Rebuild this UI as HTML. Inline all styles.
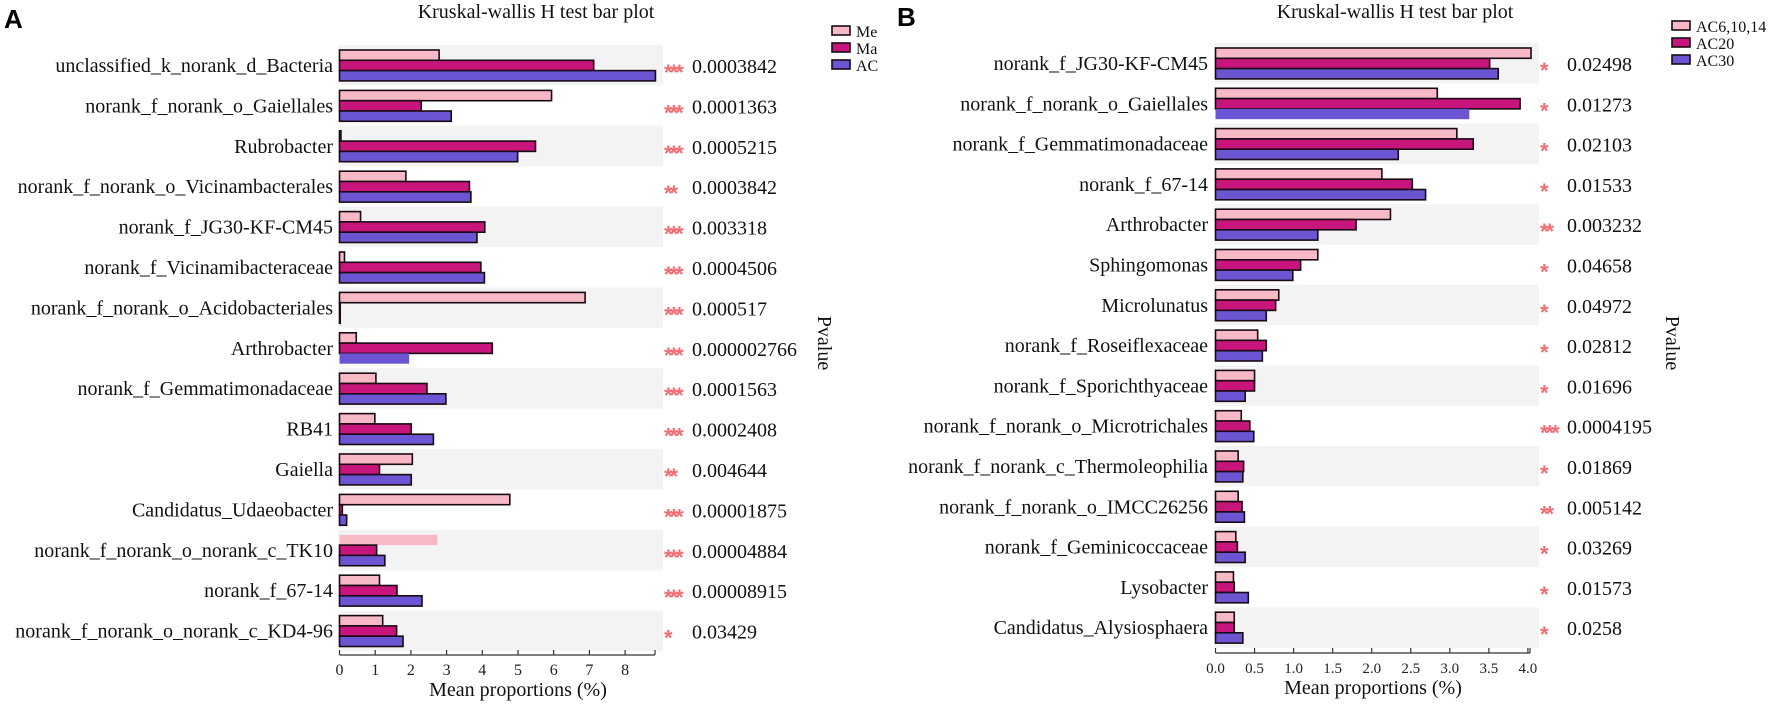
<!DOCTYPE html>
<html><head><meta charset="utf-8"><style>
html,body{margin:0;padding:0;background:#fff;width:1772px;height:704px;overflow:hidden}
svg{display:block;font-family:"Liberation Serif",serif}
</style></head><body>
<svg id="chart" width="1772" height="704" xmlns="http://www.w3.org/2000/svg">
<text x="4" y="28" font-family="Liberation Sans,sans-serif" font-weight="bold" font-size="26">A</text>
<text x="897" y="26" font-family="Liberation Sans,sans-serif" font-weight="bold" font-size="26">B</text>
</svg>
<script>
const catsA = ["unclassified_k_norank_d_Bacteria","norank_f_norank_o_Gaiellales","Rubrobacter","norank_f_norank_o_Vicinambacterales","norank_f_JG30-KF-CM45","norank_f_Vicinamibacteraceae","norank_f_norank_o_Acidobacteriales","Arthrobacter","norank_f_Gemmatimonadaceae","RB41","Gaiella","Candidatus_Udaeobacter","norank_f_norank_o_norank_c_TK10","norank_f_67-14","norank_f_norank_o_norank_c_KD4-96"];
const meA = [2.79,5.94,0.04,1.86,0.59,0.14,6.88,0.47,1.02,0.99,2.04,4.77,2.74,1.12,1.21];
const maA = [7.12,2.29,5.49,3.64,4.07,3.96,0.02,4.28,2.45,2.01,1.12,0.08,1.04,1.61,1.60];
const acA = [8.85,3.13,4.99,3.68,3.85,4.06,0.02,1.95,2.98,2.63,2.01,0.20,1.27,2.31,1.78];
const pvalsA = ["0.0003842","0.0001363","0.0005215","0.0003842","0.003318","0.0004506","0.000517","0.000002766","0.0001563","0.0002408","0.004644","0.00001875","0.00004884","0.00008915","0.03429"];
const starsA = ["***","***","***","**","***","***","***","***","***","***","**","***","***","***","*"];
const ticksA = [0,1,2,3,4,5,6,7,8];
const legendA = ["Me","Ma","AC"];

const catsB = ["norank_f_JG30-KF-CM45","norank_f_norank_o_Gaiellales","norank_f_Gemmatimonadaceae","norank_f_67-14","Arthrobacter","Sphingomonas","Microlunatus","norank_f_Roseiflexaceae","norank_f_Sporichthyaceae","norank_f_norank_o_Microtrichales","norank_f_norank_c_Thermoleophilia","norank_f_norank_o_IMCC26256","norank_f_Geminicoccaceae","Lysobacter","Candidatus_Alysiosphaera"];
const s1B = [4.04,2.84,3.09,2.13,2.24,1.31,0.81,0.54,0.50,0.33,0.29,0.29,0.26,0.23,0.24];
const s2B = [3.51,3.90,3.30,2.52,1.80,1.09,0.77,0.65,0.50,0.44,0.36,0.34,0.28,0.24,0.24];
const s3B = [3.62,3.25,2.34,2.69,1.31,0.99,0.65,0.60,0.38,0.49,0.35,0.37,0.38,0.42,0.35];
const pvalsB = ["0.02498","0.01273","0.02103","0.01533","0.003232","0.04658","0.04972","0.02812","0.01696","0.0004195","0.01869","0.005142","0.03269","0.01573","0.0258"];
const starsB = ["*","*","*","*","**","*","*","*","*","***","*","**","*","*","*"];
const ticksB = [0,0.5,1,1.5,2,2.5,3,3.5,4];
const legendB = ["AC6,10,14","AC20","AC30"];

const COLORS = ["#f7b9c5","#c8157c","#6b55d3"];
const NS = "http://www.w3.org/2000/svg";
const svg = document.getElementById("chart");
function mk(tag, attrs, parent){const e=document.createElementNS(NS,tag);for(const k in attrs)e.setAttribute(k,attrs[k]);(parent||svg).appendChild(e);return e;}

function panel(P){
  const g = mk("g",{});
  
  
  const x = v => P.x0 + v*P.ppu;
  const rowTop = i => P.y0 + i*P.pitch;
  const bh = 10.3;
  P.cats.forEach((c,i)=>{
    if(i%2===0){
      const b = mk("rect",{x:P.x0-1,y:rowTop(i)-5,width:P.bandEnd-P.x0+1,height:40.5,fill:"#f3f3f3"},g);
      
      
    }
  });
  P.cats.forEach((c,i)=>{
    const t = mk("text",{x:P.labelX,y:rowTop(i)+22,"text-anchor":"end","font-size":20,fill:"#111"},g);
    t.textContent=c;
    
    
    P.series.forEach((arr,s)=>{
      const nb = P.noBorder.some(q=>q[0]===i&&q[1]===s);
      const w = Math.max(arr[i]*P.ppu,0.5);
      const r = mk("rect",{x:P.x0,y:rowTop(i)+s*bh,width:w,height:bh,fill:COLORS[s],stroke:nb?"none":"#1a0a14","stroke-width":1.6},g);
      
      
    });
    const st = mk("text",{x:P.starX,y:rowTop(i)+30,"font-size":22,"font-weight":"bold",fill:"#f26d72","font-family":"Liberation Sans,sans-serif","letter-spacing":"-3"},g);
    st.textContent=P.stars[i];
    
    
    const pv = mk("text",{x:P.pX,y:rowTop(i)+23,"font-size":20,fill:"#111"},g);
    pv.textContent=P.pvals[i];
    
    
  });
  const ay = P.axisY;
  const ax = mk("line",{x1:P.x0,x2:P.axisEnd,y1:ay,y2:ay,stroke:"#333","stroke-width":1.2},g);
  
  
  P.ticks.forEach(v=>{
    mk("line",{x1:x(v),x2:x(v),y1:ay,y2:ay-5,stroke:"#333","stroke-width":1.2},g);
    const tl = mk("text",{x:x(v),y:ay+20,"text-anchor":"middle","font-size":P.tickFont,fill:"#222"},g);
    tl.textContent = P.tickFmt(v);
    
    
  });
  mk("line",{x1:P.axisEnd,x2:P.axisEnd,y1:ay,y2:ay-5,stroke:"#333","stroke-width":1.2},g);
  const at = mk("text",{x:P.axTitleX,y:ay+41,"text-anchor":"middle","font-size":20,fill:"#111"},g);
  at.textContent="Mean proportions (%)";
  
  
  const tt = mk("text",{x:P.titleX,y:18,"text-anchor":"middle","font-size":20,fill:"#111"},g);
  tt.textContent="Kruskal-wallis H test bar plot";
  
  
  const pt = mk("text",{x:0,y:0,"text-anchor":"middle","font-size":20,fill:"#111",transform:`translate(${P.pvX},343) rotate(90)`},g);
  pt.textContent="Pvalue";
  
  
  P.legend.forEach((l,s)=>{
    const ly = P.legY + s*17;
    const lb = mk("rect",{x:P.legX,y:ly-5,width:18,height:9,fill:COLORS[s],stroke:"#1a0a14","stroke-width":1.6},g);
    
    
    const lt = mk("text",{x:P.legX+24,y:ly+6,"font-size":16,fill:"#111"},g);
    lt.textContent=l;
    
    
  });
}

panel({id:"panel-a",cats:catsA,series:[meA,maA,acA],pvals:pvalsA,stars:starsA,ticks:ticksA,legend:legendA,
  x0:339.5,ppu:35.7,y0:50,pitch:40.4,bandEnd:663,labelX:333,starX:664,pX:692,axisY:655,axisEnd:655,
  tickFont:16,tickFmt:v=>String(v),axTitleX:518,titleX:536,pvX:818,legX:832,legY:31,
  noBorder:[[7,2],[12,0]]});
panel({id:"panel-b",cats:catsB,series:[s1B,s2B,s3B],pvals:pvalsB,stars:starsB,ticks:ticksB,legend:legendB,
  x0:1215.5,ppu:78.1,y0:48,pitch:40.3,bandEnd:1539,labelX:1208,starX:1540,pX:1567,axisY:653,axisEnd:1530,
  tickFont:15,tickFmt:v=>v.toFixed(1),axTitleX:1373,titleX:1395,pvX:1666,legX:1672,legY:26,
  noBorder:[[1,2]]});
</script>
</body></html>
